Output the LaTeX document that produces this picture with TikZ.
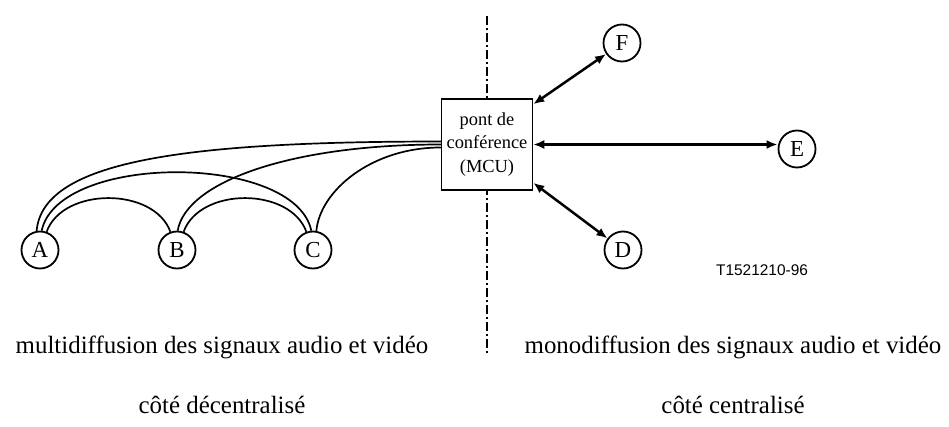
\documentclass[tikz,border=0pt]{standalone}
\usepackage{fontspec}
\setmainfont{Liberation Serif}
\setsansfont{Liberation Sans}
\usetikzlibrary{arrows.meta}

\tikzset{
  site/.style   = {draw, circle, line width=1.8bp, minimum size=37bp, inner sep=0pt,
                   font=\fontsize{23}{25}\selectfont},
  mcubox/.style = {draw, fill=white, line width=1.5bp, minimum width=91bp, minimum height=91bp,
                   inner sep=0pt, align=center, font=\fontsize{18.5}{23.5}\selectfont},
  mesh/.style   = {line width=1.7bp},
  uni/.style    = {{Latex[length=11bp,width=9bp]}-{Latex[length=11bp,width=9bp]}, line width=2.5bp},
  caption/.style= {anchor=base, font=\fontsize{25}{28}\selectfont}
}

\begin{document}
\begin{tikzpicture}[x=1bp, y=1bp]
  \useasboundingbox (0,0) rectangle (949,426);
  % border between the two sides
  \draw[line width=2.5bp, dash pattern=on 9bp off 3bp on 2bp off 3bp] (487,410) -- (487,72);
  \node[mcubox] (mcu) at (487,281.5) {pont de\\conférence\\(MCU)};

  \node[site] (A) at (40,176)  {A};
  \node[site] (B) at (177,176) {B};
  \node[site] (C) at (313,176) {C};
  \node[site] (D) at (623,176) {D};
  \node[site] (E) at (797,277) {E};
  \node[site] (F) at (622,383) {F};

  % multicast mesh
  \draw[mesh] (A.70)  to[out=70, in=110, distance=48] (B.110);
  \draw[mesh] (B.70)  to[out=70, in=110, distance=48] (C.110);
  \draw[mesh] (A.85)  to[out=78, in=102, distance=80] (C.95);
  \draw[mesh] (A.100) to[out=85, in=180, out distance=70, in distance=260] ([yshift=3]mcu.west);
  \draw[mesh] (B.88)  to[out=80, in=180, out distance=50, in distance=150] (mcu.west);
  \draw[mesh] (C.80)  to[out=85, in=180, out distance=40, in distance=70] ([yshift=-3]mcu.west);

  % unicast links
  \draw[uni] ([yshift=-6]mcu.north east) -- (F);
  \draw[uni] (mcu.east) -- (mcu.east -| E.west);
  \draw[uni] ([yshift=8]mcu.south east) -- (D);

  \node[anchor=base, font=\sffamily\fontsize{15.5}{17}\selectfont] (ref) at (762,151) {T1521210-96};

  \node[caption] (multi) at (222,73) {multidiffusion des signaux audio et vidéo};
  \node[caption] (mono)  at (733,73) {monodiffusion des signaux audio et vidéo};
  \node[caption] (dec)   at (222,13) {côté décentralisé};
  \node[caption] (cen)   at (733,13) {côté centralisé};
\end{tikzpicture}
\end{document}
